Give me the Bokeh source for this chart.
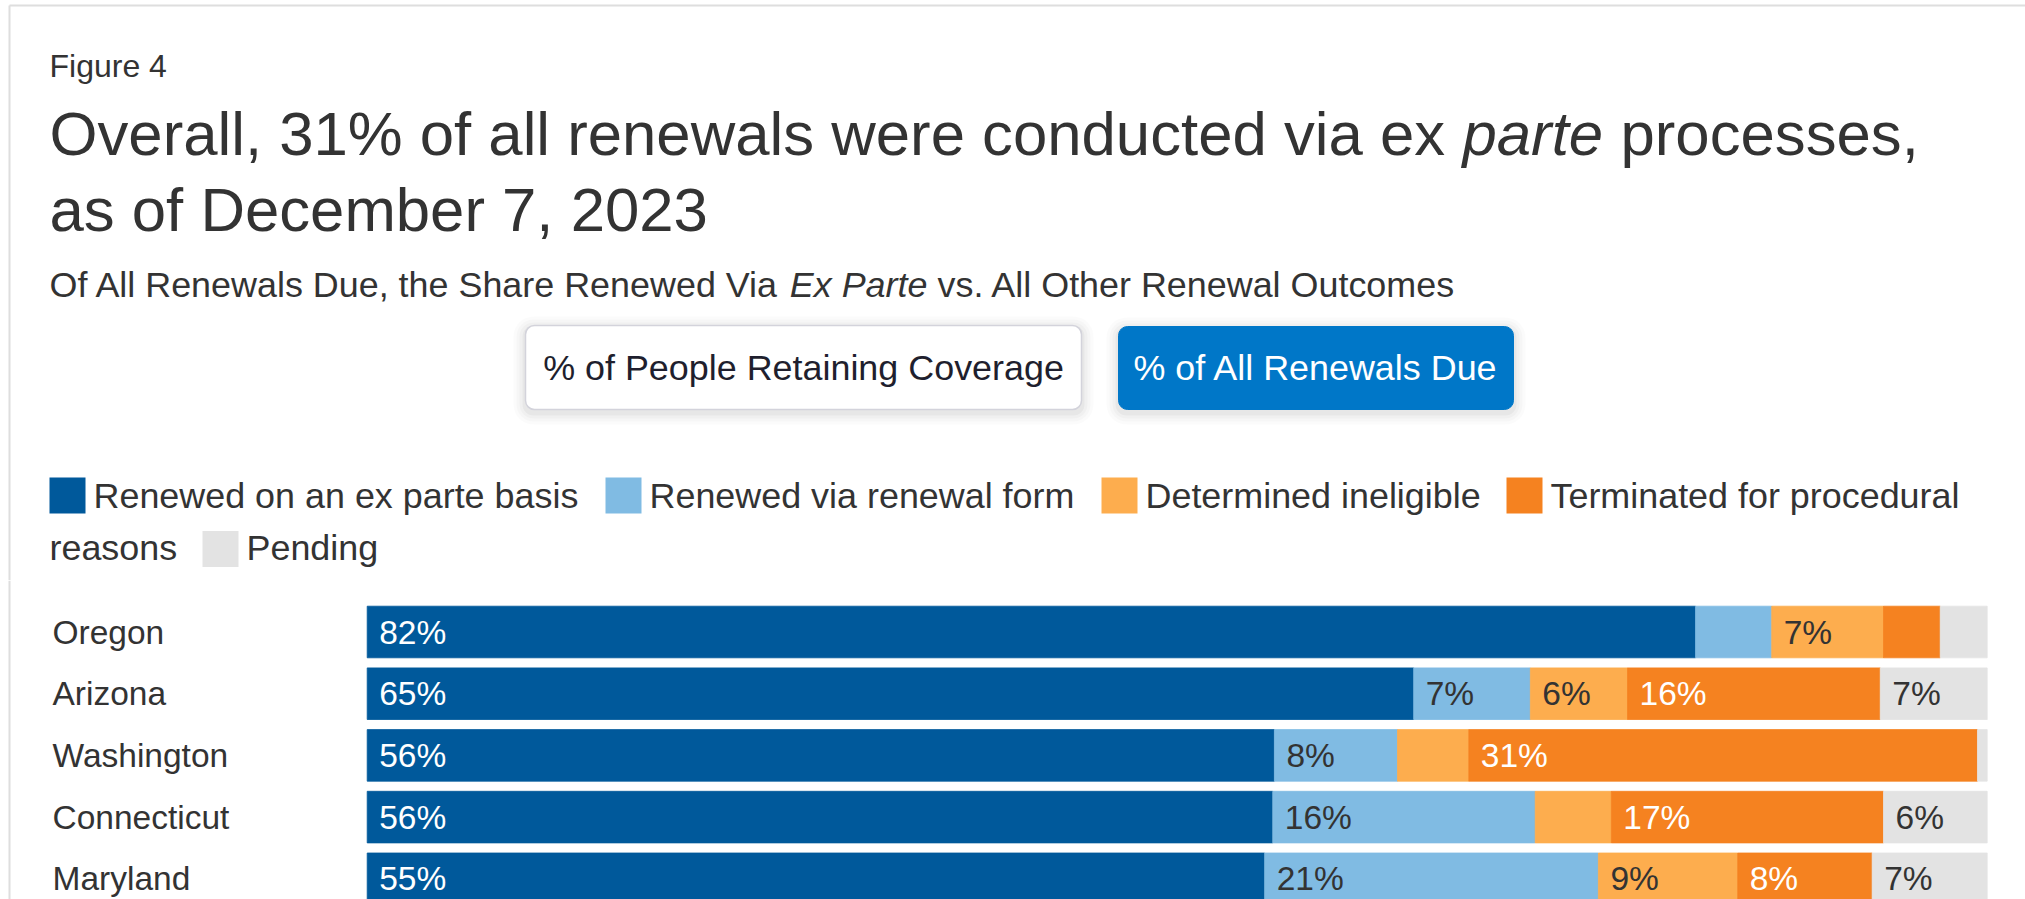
from bokeh.plotting import figure
from bokeh.models import Range1d, ColumnDataSource
from bokeh.layouts import column
from bokeh.core.properties import value
from bokeh.embed import file_html
from bokeh.resources import INLINE

# ---------------- data ----------------
STATES = ["Oregon", "Arizona", "Washington", "Connecticut", "Maryland"]
SERIES = ["Renewed on an ex parte basis", "Renewed via renewal form",
          "Determined ineligible", "Terminated for procedural reasons", "Pending"]
EX_PARTE = [82.0, 64.6, 56.0, 55.9, 55.4]
RENEWAL_FORM = [4.7, 7.2, 7.6, 16.2, 20.6]
INELIGIBLE = [6.9, 6.0, 4.4, 4.7, 8.6]
PROCEDURAL = [3.5, 15.6, 31.4, 16.8, 8.3]
PENDING = [2.9, 6.6, 0.6, 6.4, 7.1]
BUTTONS = ["% of People Retaining Coverage", "% of All Renewals Due"]

COLORS = ["#00599b", "#80bbe3", "#fdad4e", "#f58220", "#e3e3e3"]
LABEL_COLORS = ["#ffffff", "#333333", "#333333", "#ffffff", "#333333"]

# ---------------- layout constants ----------------
W = 2025
HEAD_H = 580
CHART_H = 319
FONT = value("Liberation Sans")
TXT = "#333333"
BORDER = "#dedede"


def Y(r):
    """page y (top-down) -> header figure y"""
    return HEAD_H - r


def txt(fig, x, y, s, size, color=TXT, style="normal", align="left", **kw):
    # y is the vertical centre of the capital letters
    fig.text(x=[x], y=[y], text=[s], text_font=FONT, text_font_size=f"{size}px",
             text_color=color, text_font_style=style, text_align=align,
             text_baseline="middle", **kw)


# ---------------- header ----------------
hdr = figure(width=W, height=HEAD_H, x_range=Range1d(0, W), y_range=Range1d(0, HEAD_H),
             output_backend="svg", toolbar_location=None, min_border=0,
             x_axis_location=None, y_axis_location=None, outline_line_color=None,
             background_fill_color="white", border_fill_color="white")
hdr.grid.visible = False

# card border
hdr.segment(x0=[9], x1=[9], y0=[Y(5)], y1=[Y(HEAD_H)], line_color=BORDER, line_width=2)
hdr.segment(x0=[9], x1=[W], y0=[Y(5)], y1=[Y(5)], line_color=BORDER, line_width=2)

txt(hdr, 49, Y(65.5), "Figure 4", 32)

T = 61.7
txt(hdr, 49, Y(133), "Overall, 31% of all renewals were conducted via ex", T)
txt(hdr, 1462, Y(133), "parte", T, style="italic")
txt(hdr, 1620, Y(133), "processes,", T)
txt(hdr, 49, Y(209), "as of December 7, 2023", T)

S = 35.9
txt(hdr, 49, Y(284), "Of All Renewals Due, the Share Renewed Via", S)
txt(hdr, 789.3, Y(284), "Ex Parte", S, style="italic")
txt(hdr, 937, Y(284), "vs. All Other Renewal Outcomes", S)

# toggle buttons with soft shadows
btn_boxes = [(525, 1081, 325, 409), (1118, 1513, 326, 409)]
for (l, r, t, b) in btn_boxes:
    for k, a in [(12, 0.015), (9, 0.02), (6, 0.025), (3, 0.035)]:
        hdr.quad(left=[l - k], right=[r + k], top=[Y(t - k + 3)], bottom=[Y(b + k + 3)],
                 fill_color="#000000", fill_alpha=a, line_color=None, border_radius=8 + k)
hdr.quad(left=[525], right=[1081], top=[Y(325)], bottom=[Y(409)], fill_color="white",
         line_color="#d3d3db", line_width=1.5, border_radius=9)
hdr.quad(left=[1118], right=[1513], top=[Y(326)], bottom=[Y(409)], fill_color="#0077c8",
         line_color="#0077c8", line_width=1, border_radius=9)
txt(hdr, (525 + 1081) / 2, Y(367), BUTTONS[0], 35.9, color="#1f1f2e", align="center")
txt(hdr, (1118 + 1513) / 2, Y(367), BUTTONS[1], 35.9, color="#ffffff", align="center")

# legend
LEG_X = [49, 605, 1101, 1506, 202]
LEG_ROW = [0, 0, 0, 0, 1]
ROW_TOP = [477, 530.5]
ROW_MID = [495.4, 547.4]
SW = 36
for i, name in enumerate(SERIES):
    x0 = LEG_X[i]
    rw = LEG_ROW[i]
    hdr.quad(left=[x0], right=[x0 + SW], top=[Y(ROW_TOP[rw])], bottom=[Y(ROW_TOP[rw] + SW)],
             fill_color=COLORS[i], line_color=None)
    if i == 3:
        first, last = name.rsplit(" ", 1)
        txt(hdr, x0 + 44, Y(ROW_MID[rw]), first, 35.9)
        txt(hdr, 49, Y(ROW_MID[1]), last, 35.9)
    else:
        txt(hdr, x0 + 44, Y(ROW_MID[rw]), name, 35.9)

# ---------------- chart ----------------
PX0 = 366.7          # page x of 0%
PPP = 16.2           # pixels per percent
ROW0 = 631.5         # page y of first row centre
BAND = 61.7          # pixels per row
TOP = HEAD_H
BOT = TOP + CHART_H

chart = figure(width=W, height=CHART_H,
               x_range=Range1d((0 - PX0) / PPP, (W - PX0) / PPP),
               y_range=Range1d(start=(BOT - ROW0) / BAND, end=(TOP - ROW0) / BAND),
               extra_x_ranges={"px": Range1d(0, W)},
               output_backend="svg", toolbar_location=None, min_border=0,
               x_axis_location=None, y_axis_location=None, outline_line_color=None,
               background_fill_color="white", border_fill_color="white")
chart.grid.visible = False

keys = ["ex_parte", "renewal_form", "ineligible", "procedural", "pending"]
cols = [EX_PARTE, RENEWAL_FORM, INELIGIBLE, PROCEDURAL, PENDING]
data = {"state": STATES, "row": list(range(len(STATES)))}
for k, c in zip(keys, cols):
    data[k] = c
src = ColumnDataSource(data)

chart.hbar_stack(keys, y="row", height=51.6 / BAND, fill_color=COLORS, line_color=COLORS,
                 line_width=0.8, source=src)

# segment labels
lx, ly, lt, lc = [], [], [], []
for r in range(len(STATES)):
    start = 0.0
    for k, c in enumerate(cols):
        v = c[r]
        if int(v + 0.5) >= 6:
            lx.append(start)
            ly.append(r)
            lt.append(f"{int(v + 0.5)}%")
            lc.append(LABEL_COLORS[k])
        start += v
chart.text(x=lx, y=ly, text=lt, text_color=lc, x_offset=12, text_font=FONT,
           text_font_size="33.5px", text_baseline="middle", text_align="left")

# state names
chart.text(x=[52] * len(STATES), y=data["row"], text=STATES, x_range_name="px",
           text_font=FONT, text_font_size="33.5px", text_color=TXT,
           text_baseline="middle", text_align="left")

chart.segment(x0=[9], x1=[9], y0=[(TOP - ROW0) / BAND], y1=[(BOT - ROW0) / BAND],
              x_range_name="px", line_color=BORDER, line_width=2)

layout = column(hdr, chart, spacing=0)
open("out.html", "w").write(file_html(layout, INLINE))
